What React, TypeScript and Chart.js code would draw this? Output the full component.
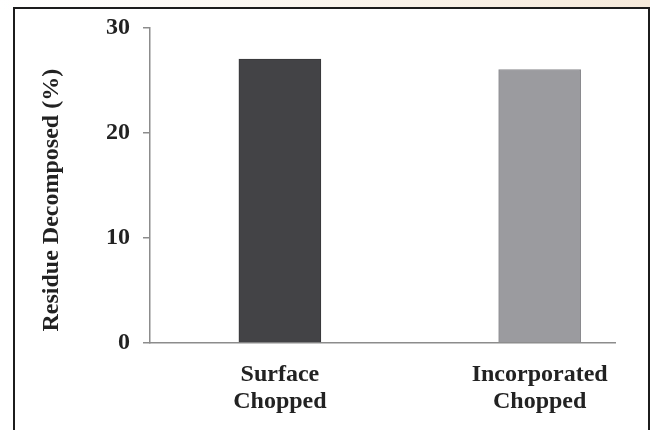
import React, { useEffect, useRef } from "react";
import { Chart, registerables } from "chart.js";

Chart.register(...registerables);

const categories: string[][] = [["Surface", "Chopped"], ["Incorporated", "Chopped"]];
const categoryIndex: number[] = [0, 1];
const residueDecomposed: number[] = [27, 26];
const barColors: string[] = ["#434346", "#9b9b9f"];
const barBorders: string[] = ["#37373a", "#8a8a8e"];
const yTickValues: number[] = [0, 10, 20, 30];
const yTitle = "Residue Decomposed (%)";
const X_MIN = -0.5;
const X_MAX = 1.29;

const FONT_FAMILY = "'Liberation Serif', 'Times New Roman', serif";

const yTitlePlugin = {
  id: "yTitlePlugin",
  afterDraw(chart: any) {
    const { ctx, chartArea } = chart;
    ctx.save();
    ctx.translate(52, (chartArea.top + chartArea.bottom) / 2 + 15);
    ctx.rotate(-Math.PI / 2);
    ctx.textAlign = "center";
    ctx.textBaseline = "middle";
    ctx.font = `bold 24px ${FONT_FAMILY}`;
    ctx.fillStyle = "#222222";
    ctx.fillText(yTitle, 0, 0);
    ctx.restore();
  },
};

export default function App() {
  const canvasRef = useRef<HTMLCanvasElement | null>(null);

  useEffect(() => {
    document.body.style.margin = "0";
    const canvas = canvasRef.current;
    if (!canvas) return;
    const chart = new Chart(canvas, {
      type: "bar",
      data: {
        datasets: [
          {
            data: categoryIndex.map((x, i) => ({ x, y: residueDecomposed[i] })),
            backgroundColor: barColors,
            borderColor: barBorders,
            borderWidth: 1,
            barThickness: 82,
          } as any,
        ],
      },
      plugins: [yTitlePlugin],
      options: {
        animation: false,
        responsive: false,
        devicePixelRatio: 1,
        layout: { padding: { left: 0, top: 27, right: 35, bottom: 0 } },
        plugins: { legend: { display: false }, tooltip: { enabled: false } },
        scales: {
          x: {
            type: "linear",
            min: X_MIN,
            max: X_MAX,
            offset: false,
            grid: { display: false },
            border: { display: true, color: "#8c8c8c", width: 1.5 },
            afterBuildTicks: (axis: any) => {
              axis.ticks = categoryIndex.map((v) => ({ value: v }));
            },
            afterFit: (scale: any) => {
              scale.height = 87;
            },
            ticks: {
              autoSkip: false,
              maxRotation: 0,
              padding: 10,
              color: "#222222",
              font: { family: FONT_FAMILY, size: 24, weight: "bold", lineHeight: 1.12 },
              callback: (value: any) => categories[Number(value)] ?? "",
            },
          },
          y: {
            min: 0,
            max: 30,
            afterBuildTicks: (axis: any) => {
              axis.ticks = yTickValues.map((v) => ({ value: v }));
            },
            afterFit: (scale: any) => {
              scale.width = 150;
            },
            grid: {
              drawOnChartArea: false,
              drawTicks: true,
              tickLength: 7,
              color: "#8c8c8c",
              lineWidth: 1.5,
            },
            border: { display: true, color: "#8c8c8c", width: 1.5 },
            ticks: {
              padding: 13,
              color: "#222222",
              font: { family: FONT_FAMILY, size: 24, weight: "bold" },
            },
          },
        },
      },
    });
    return () => chart.destroy();
  }, []);

  return (
    <div style={{ position: "fixed", left: 0, top: 0, width: 650, height: 430, overflow: "hidden", background: "#ffffff" }}>
      <div
        style={{
          position: "absolute",
          left: 0,
          top: 0,
          width: 650,
          height: 10,
          background: "linear-gradient(to right, #ffffff 0%, #fbf7f1 40%, #f6eadb 100%)",
        }}
      />
      <div
        style={{
          position: "absolute",
          left: 13,
          top: 7,
          width: 633,
          height: 440,
          background: "#ffffff",
          borderLeft: "2px solid #1c1c1c",
          borderTop: "2px solid #1c1c1c",
          borderRight: "2px solid #1c1c1c",
        }}
      />
      <canvas
        ref={canvasRef}
        width={650}
        height={430}
        style={{ position: "absolute", left: 0, top: 0, width: 650, height: 430 }}
      />
    </div>
  );
}
